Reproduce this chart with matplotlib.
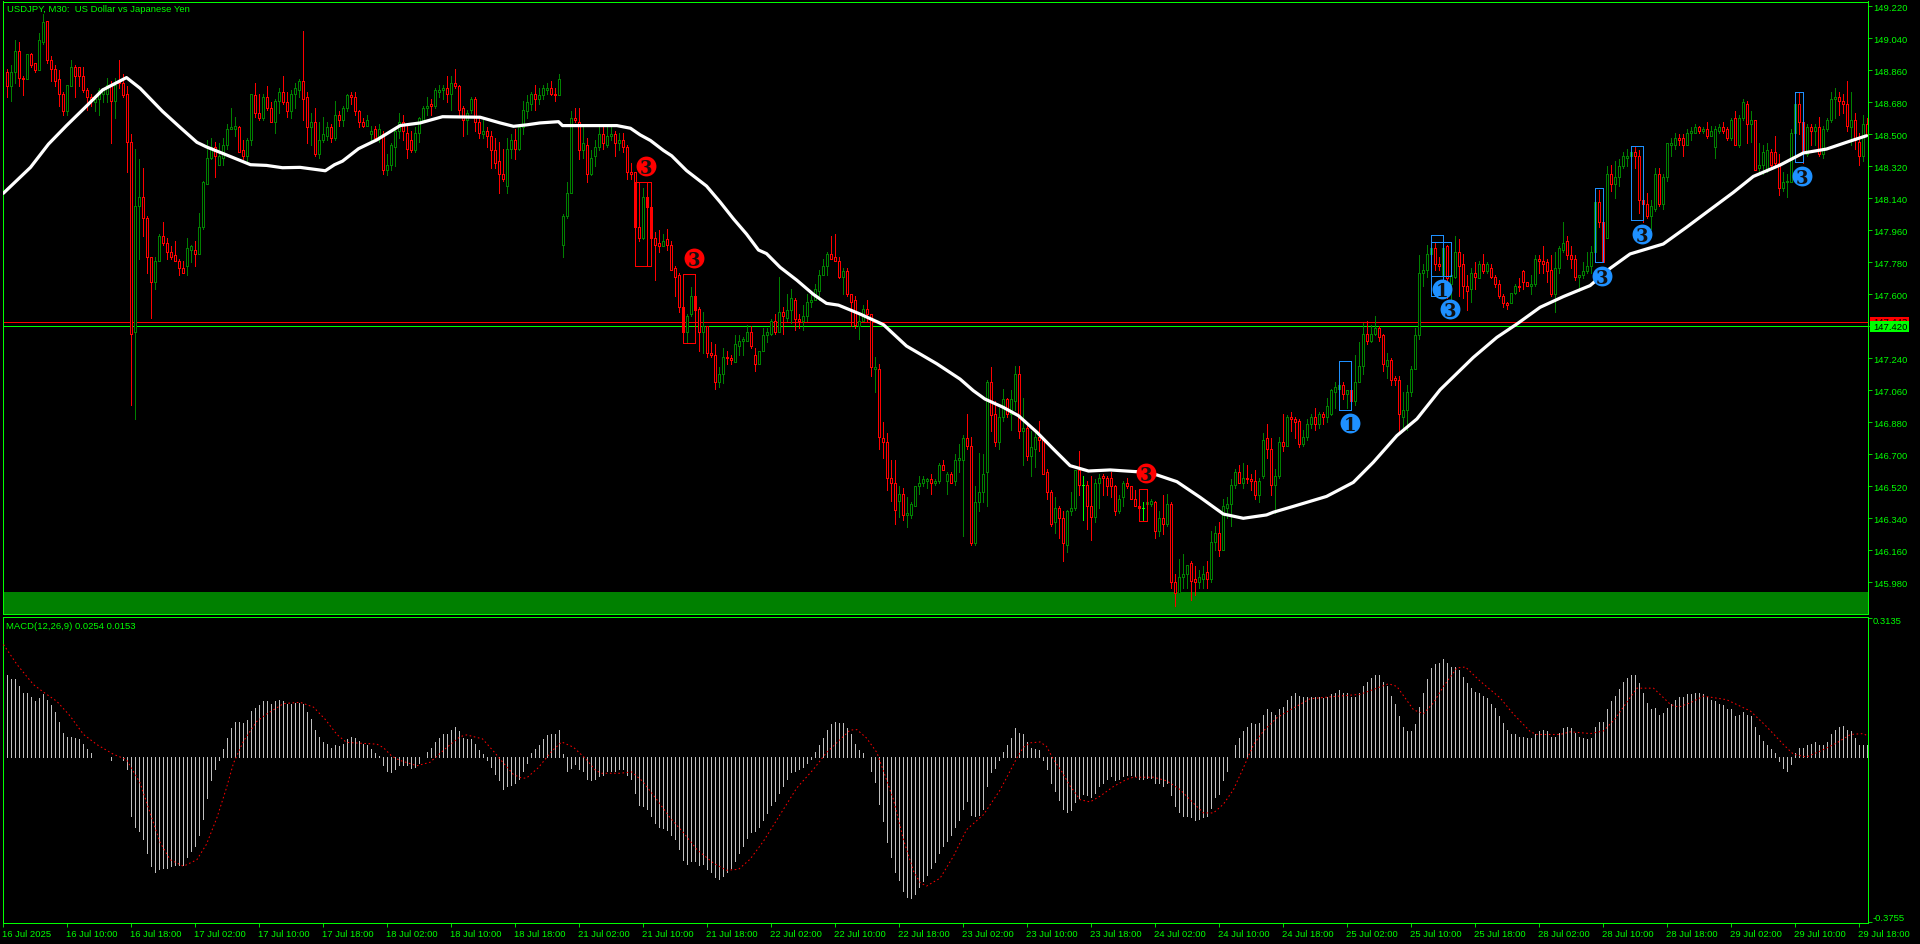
import matplotlib
matplotlib.use("Agg")
import matplotlib.pyplot as plt
from matplotlib.patches import Rectangle

# ---------- candles (USDJPY M30) ----------
highs = [
148.87,148.89,149.03,149.02,148.83,148.95,148.96,148.90,149.07,149.18,
149.14,148.94,148.89,148.86,148.74,148.78,148.92,148.89,148.88,148.88,
148.76,148.73,148.70,148.76,148.76,148.82,148.80,148.82,148.92,148.84,
148.77,148.50,148.42,148.36,148.31,148.04,147.81,147.81,147.94,148.01,
147.92,147.87,147.90,147.80,147.79,147.92,147.88,147.90,148.06,148.24,
148.47,148.48,148.46,148.45,148.48,148.56,148.65,148.60,148.55,148.47,
148.48,148.73,148.79,148.73,148.73,148.77,148.68,148.70,148.76,148.83,
148.74,148.75,148.79,148.81,149.08,148.74,148.62,148.65,148.57,148.60,
148.57,148.56,148.69,148.63,148.66,148.73,148.74,148.74,148.64,148.59,
148.61,148.55,148.55,148.56,148.52,148.39,148.45,148.53,148.62,148.61,
148.55,148.52,148.54,148.60,148.66,148.71,148.70,148.76,148.78,148.78,
148.83,148.83,148.87,148.78,148.66,148.64,148.71,148.71,148.59,
148.58,148.54,148.52,148.48,148.46,148.42,148.48,148.50,148.53,148.56,
148.69,148.72,148.74,148.78,148.76,148.78,148.79,148.80,148.76,148.84,
148.05,148.23,148.63,148.65,148.65,148.55,148.48,148.41,148.47,148.54,
148.54,148.54,148.54,148.52,148.51,148.51,148.44,148.34,148.29,148.23,
148.20,148.23,148.14,147.95,147.96,147.94,147.97,147.90,147.76,147.72,
147.54,147.49,147.64,147.62,147.53,147.50,147.42,147.33,147.32,147.19,
147.30,147.28,147.26,147.37,147.37,147.36,147.43,147.42,147.30,147.28,
147.41,147.41,147.46,147.49,147.70,147.53,147.60,147.63,147.58,147.49,
147.54,147.60,147.62,147.66,147.74,147.80,147.84,147.93,147.94,147.81,
147.75,147.75,147.60,147.59,147.50,147.54,147.57,147.49,147.25,
147.21,146.88,146.82,146.67,146.67,146.52,146.51,146.46,146.43,146.52,
146.58,146.58,146.57,146.59,146.56,146.65,146.67,146.60,146.60,146.70,
146.76,146.81,146.93,146.80,146.52,146.71,146.70,147.12,147.19,147.00,
146.96,147.07,147.02,147.06,147.20,147.20,147.02,146.87,146.83,146.82,
146.89,146.80,146.62,146.50,146.46,146.41,146.38,146.39,146.49,146.61,
146.72,146.58,146.55,146.58,146.56,146.59,146.59,146.58,146.60,146.53,
146.47,146.55,146.57,146.52,146.50,146.47,146.43,146.45,146.45,146.44,
146.38,146.47,146.48,
146.43,146.03,146.11,146.14,146.08,146.10,146.07,146.05,146.07,146.10,
146.27,146.30,146.32,146.45,146.46,146.56,146.62,146.64,146.65,146.64,
146.59,146.61,146.57,146.82,146.87,146.79,146.62,146.80,
146.93,146.92,146.94,146.91,146.90,146.84,146.90,146.93,146.96,146.94,
146.94,147.02,147.07,147.11,147.22,147.11,147.06,147.11,147.26,147.33,
147.44,147.45,147.43,147.48,147.42,147.38,147.27,147.24,147.14,147.14,
147.05,147.09,147.20,147.41,147.82,147.77,147.88,147.88,147.89,147.81,
147.93,147.88,147.72,147.93,147.91,147.83,147.71,147.75,147.78,147.79,
147.83,147.78,147.77,147.71,147.68,147.60,147.56,147.61,147.66,147.69,
147.74,147.67,147.71,147.82,147.82,147.87,147.80,147.82,147.84,147.87,
148.01,147.93,147.87,147.82,147.71,147.78,147.84,147.87,148.17,148.19,
148.02,148.32,148.33,148.35,148.36,148.40,148.42,148.43,148.43,148.41,
148.16,148.17,148.13,148.31,148.31,148.28,148.45,148.48,148.51,148.50,
148.50,148.53,148.54,148.56,148.55,148.54,148.57,148.55,148.55,148.56,
148.57,148.54,148.59,148.63,148.61,148.70,148.69,148.63,148.58,148.45,
148.44,148.45,148.42,148.49,148.39,148.29,148.28,148.53,148.74,148.74,
148.60,148.56,148.56,148.56,148.60,148.55,148.59,148.74,148.76,148.74,
148.73,148.80,148.74,148.62,148.51,148.61,148.59]

lows = [
148.71,148.69,148.79,148.77,148.72,148.81,148.88,148.85,148.86,149.01,
148.90,148.80,148.77,148.66,148.61,148.61,148.77,148.71,148.77,148.74,
148.64,148.66,148.63,148.61,148.68,148.68,148.45,148.59,148.76,148.71,
148.29,146.98,146.90,147.80,147.93,147.72,147.47,147.63,147.79,147.88,
147.80,147.80,147.79,147.71,147.72,147.71,147.78,147.76,147.83,147.97,
148.22,148.36,148.26,148.33,148.33,148.42,148.53,148.49,148.40,148.36,
148.34,148.44,148.60,148.58,148.58,148.64,148.57,148.51,148.62,148.67,
148.60,148.59,148.65,148.71,148.58,148.45,148.44,148.38,148.37,148.46,
148.47,148.46,148.47,148.55,148.55,148.63,148.67,148.61,148.54,148.54,
148.55,148.47,148.47,148.46,148.28,148.27,148.30,148.32,148.48,148.47,
148.37,148.40,148.40,148.46,148.58,148.61,148.61,148.65,148.71,148.70,
148.68,148.64,148.76,148.61,148.49,148.50,148.62,148.52,148.48,
148.48,148.43,148.31,148.31,148.17,148.24,148.17,148.37,148.36,148.41,
148.50,148.59,148.64,148.64,148.67,148.70,148.73,148.72,148.69,148.72,
147.81,148.03,148.17,148.57,148.36,148.37,148.23,148.27,148.32,148.41,
148.42,148.43,148.47,148.38,148.41,148.40,148.25,148.25,147.96,147.90,
147.91,148.02,147.86,147.68,147.84,147.87,147.85,147.74,147.59,147.50,
147.39,147.33,147.48,147.42,147.28,147.27,147.25,147.25,147.07,147.08,
147.10,147.21,147.21,147.22,147.26,147.26,147.34,147.30,147.17,147.21,
147.28,147.33,147.37,147.38,147.39,147.38,147.45,147.44,147.40,147.41,
147.40,147.45,147.53,147.57,147.57,147.71,147.71,147.80,147.79,147.69,
147.60,147.59,147.42,147.41,147.35,147.45,147.45,147.14,147.05,
146.73,146.68,146.50,146.44,146.31,146.35,146.33,146.29,146.34,146.41,
146.48,146.52,146.51,146.48,146.53,146.54,146.61,146.48,146.54,146.53,
146.60,146.24,146.73,146.19,146.19,146.38,146.43,146.41,146.83,146.75,
146.73,146.89,146.91,146.84,146.95,146.79,146.64,146.67,146.58,146.63,
146.72,146.59,146.45,146.30,146.26,146.23,146.10,146.15,146.36,146.39,
146.47,146.33,146.28,146.22,146.32,146.40,146.47,146.47,146.46,146.36,
146.37,146.41,146.51,146.45,146.41,146.33,146.33,146.41,146.41,146.23,
146.24,146.25,146.30,
145.95,145.85,145.92,145.95,145.95,145.88,145.91,145.95,145.95,145.95,
145.98,146.16,146.13,146.16,146.34,146.30,146.51,146.54,146.51,146.54,
146.50,146.45,146.43,146.57,146.68,146.47,146.37,146.57,
146.72,146.75,146.83,146.79,146.74,146.75,146.78,146.85,146.84,146.85,
146.87,146.88,146.92,146.96,147.01,147.01,146.96,146.96,146.98,147.11,
147.15,147.32,147.33,147.37,147.34,147.17,147.13,147.09,147.09,146.82,
146.83,146.84,147.03,147.18,147.35,147.65,147.70,147.71,147.74,147.74,
147.69,147.58,147.57,147.69,147.59,147.58,147.51,147.56,147.63,147.69,
147.72,147.72,147.69,147.64,147.58,147.53,147.52,147.55,147.60,147.62,
147.63,147.65,147.60,147.65,147.72,147.72,147.67,147.59,147.50,147.72,
147.84,147.80,147.75,147.68,147.62,147.69,147.72,147.72,147.84,147.98,
147.78,147.92,148.18,148.14,148.21,148.31,148.32,148.28,148.31,148.06,
148.01,148.03,147.97,148.07,148.10,148.08,148.24,148.38,148.42,148.44,
148.38,148.44,148.47,148.51,148.51,148.51,148.48,148.49,148.37,148.51,
148.51,148.47,148.47,148.44,148.43,148.58,148.45,148.46,148.30,148.28,
148.28,148.29,148.32,148.32,148.16,148.18,148.15,148.23,148.46,148.50,
148.34,148.38,148.44,148.44,148.38,148.37,148.52,148.57,148.59,148.61,
148.62,148.52,148.44,148.42,148.33,148.35,148.50]

opens = [
148.85,148.77,148.85,148.97,148.82,148.81,148.95,148.90,148.86,149.02,
149.14,148.92,148.87,148.81,148.73,148.63,148.77,148.88,148.88,148.83,
148.75,148.71,148.68,148.70,148.73,148.73,148.77,148.69,148.80,148.79,
148.73,148.46,147.39,148.10,148.15,148.03,147.81,147.67,147.79,147.93,
147.89,147.84,147.82,147.79,147.75,147.76,147.85,147.85,147.83,147.98,
148.22,148.37,148.43,148.33,148.37,148.44,148.53,148.53,148.54,148.41,
148.38,148.47,148.72,148.62,148.59,148.71,148.65,148.57,148.69,148.74,
148.68,148.63,148.73,148.75,148.80,148.71,148.54,148.57,148.39,148.47,
148.49,148.54,148.48,148.61,148.58,148.65,148.72,148.71,148.63,148.57,
148.55,148.50,148.53,148.49,148.50,148.30,148.33,148.43,148.52,148.57,
148.51,148.47,148.41,148.51,148.58,148.65,148.67,148.66,148.74,148.75,
148.76,148.73,148.79,148.77,148.65,148.58,148.64,148.70,148.57,
148.50,148.52,148.49,148.41,148.35,148.28,148.21,148.42,148.47,148.42,
148.54,148.63,148.67,148.73,148.70,148.72,148.75,148.76,148.73,148.72,
147.88,148.04,148.17,148.59,148.57,148.41,148.44,148.28,148.38,148.43,
148.50,148.44,148.49,148.50,148.45,148.47,148.43,148.29,148.29,147.98,
147.92,148.15,148.09,147.92,147.89,147.87,147.91,147.88,147.75,147.71,
147.53,147.39,147.49,147.59,147.52,147.39,147.42,147.27,147.26,147.11,
147.15,147.25,147.24,147.22,147.31,147.34,147.34,147.39,147.26,147.21,
147.28,147.37,147.38,147.45,147.39,147.50,147.47,147.51,147.57,147.46,
147.45,147.48,147.56,147.57,147.62,147.71,147.76,147.83,147.81,147.79,
147.70,147.73,147.60,147.57,147.42,147.45,147.52,147.49,147.18,
147.18,146.79,146.77,146.57,146.54,146.44,146.48,146.36,146.36,146.41,
146.52,146.54,146.55,146.56,146.54,146.55,146.64,146.55,146.59,146.55,
146.67,146.67,146.79,146.75,146.20,146.43,146.49,146.60,147.11,146.93,
146.77,146.91,147.01,146.93,147.00,147.15,146.83,146.85,146.69,146.73,
146.80,146.78,146.60,146.49,146.32,146.40,146.34,146.19,146.38,146.40,
146.61,146.53,146.53,146.41,146.35,146.54,146.58,146.57,146.57,146.52,
146.38,146.46,146.54,146.52,146.45,146.41,146.40,146.42,146.42,146.43,
146.27,146.34,146.31,
146.42,145.98,145.92,146.01,146.03,146.09,146.00,145.98,146.00,146.04,
146.00,146.21,146.26,146.16,146.40,146.42,146.53,146.60,146.54,146.57,
146.56,146.55,146.47,146.58,146.79,146.73,146.53,146.58,
146.77,146.75,146.91,146.90,146.89,146.76,146.80,146.87,146.91,146.87,
146.93,146.91,146.93,147.05,147.07,147.09,147.04,147.06,147.00,147.11,
147.20,147.38,147.34,147.38,147.41,147.37,147.20,147.23,147.13,147.12,
146.91,146.95,147.05,147.18,147.37,147.72,147.74,147.83,147.86,147.77,
147.71,147.87,147.66,147.70,147.84,147.77,147.65,147.63,147.72,147.69,
147.77,147.73,147.75,147.70,147.66,147.59,147.55,147.55,147.61,147.65,
147.73,147.67,147.65,147.66,147.80,147.79,147.78,147.74,147.60,147.75,
147.85,147.90,147.82,147.80,147.70,147.71,147.73,147.76,147.84,148.12,
148.01,147.92,148.28,148.22,148.26,148.32,148.37,148.38,148.40,148.38,
148.13,148.11,148.04,148.08,148.28,148.11,148.26,148.44,148.44,148.48,
148.48,148.44,148.51,148.51,148.54,148.52,148.53,148.49,148.43,148.52,
148.54,148.53,148.48,148.59,148.44,148.59,148.67,148.56,148.58,148.31,
148.33,148.30,148.40,148.40,148.34,148.20,148.23,148.23,148.51,148.67,
148.57,148.39,148.54,148.52,148.54,148.39,148.53,148.58,148.70,148.71,
148.69,148.67,148.54,148.58,148.46,148.38,148.56]

closes = [
148.77,148.85,148.97,148.82,148.81,148.95,148.89,148.86,149.03,149.13,
148.92,148.87,148.80,148.73,148.63,148.78,148.88,148.83,148.83,148.75,
148.71,148.69,148.70,148.75,148.76,148.78,148.69,148.78,148.79,148.72,
148.46,147.38,148.10,148.15,148.03,147.81,147.67,147.79,147.93,147.89,
147.84,147.81,147.79,147.75,147.72,147.86,147.87,147.83,147.98,148.23,
148.37,148.43,148.38,148.38,148.44,148.53,148.54,148.55,148.40,148.38,
148.47,148.73,148.62,148.59,148.71,148.65,148.57,148.69,148.74,148.68,
148.63,148.73,148.76,148.80,148.70,148.54,148.57,148.39,148.47,148.50,
148.54,148.48,148.61,148.58,148.65,148.72,148.71,148.63,148.57,148.55,
148.58,148.52,148.48,148.53,148.30,148.33,148.44,148.52,148.57,148.52,
148.42,148.41,148.51,148.59,148.65,148.66,148.66,148.75,148.75,148.76,
148.73,148.79,148.77,148.64,148.58,148.62,148.70,148.57,148.51,
148.52,148.49,148.41,148.34,148.28,148.25,148.42,148.47,148.42,148.54,
148.64,148.68,148.73,148.70,148.72,148.76,148.76,148.73,148.72,148.81,
148.04,148.17,148.59,148.58,148.41,148.45,148.28,148.37,148.43,148.50,
148.45,148.49,148.50,148.45,148.47,148.43,148.29,148.28,147.98,147.92,
148.15,148.09,147.92,147.88,147.87,147.90,147.88,147.74,147.70,147.53,
147.39,147.48,147.59,147.51,147.39,147.42,147.27,147.26,147.11,147.15,
147.25,147.24,147.23,147.32,147.34,147.35,147.39,147.31,147.21,147.28,
147.37,147.39,147.45,147.39,147.50,147.48,147.51,147.58,147.46,147.45,
147.48,147.56,147.57,147.63,147.71,147.76,147.83,147.80,147.79,147.70,
147.73,147.60,147.56,147.43,147.45,147.52,147.49,147.19,147.19,
146.80,146.77,146.57,146.54,146.39,146.48,146.36,146.37,146.42,146.52,
146.54,146.56,146.56,146.54,146.55,146.64,146.61,146.59,146.54,146.67,
146.68,146.79,146.75,146.20,146.43,146.49,146.59,147.11,146.92,146.77,
146.91,147.01,146.93,147.01,147.15,146.83,146.85,146.69,146.74,146.80,
146.78,146.59,146.49,146.31,146.40,146.34,146.20,146.38,146.40,146.61,
146.53,146.53,146.41,146.35,146.54,146.57,146.57,146.52,146.52,146.38,
146.45,146.54,146.52,146.45,146.41,146.40,146.40,146.43,146.44,146.27,
146.34,146.31,146.42,
145.98,145.92,146.01,146.03,146.08,145.99,145.98,146.01,146.03,146.00,
146.21,146.26,146.16,146.41,146.42,146.53,146.60,146.54,146.57,146.56,
146.55,146.47,146.55,146.78,146.73,146.53,146.58,146.77,
146.75,146.91,146.90,146.88,146.76,146.80,146.87,146.91,146.87,146.93,
146.91,146.97,147.06,147.08,147.09,147.04,147.06,147.00,147.11,147.20,
147.38,147.34,147.38,147.41,147.36,147.21,147.23,147.12,147.12,146.93,
146.95,147.05,147.18,147.37,147.72,147.74,147.83,147.86,147.77,147.76,
147.86,147.69,147.71,147.84,147.76,147.65,147.62,147.72,147.70,147.77,
147.73,147.77,147.70,147.66,147.59,147.55,147.54,147.61,147.65,147.64,
147.67,147.65,147.66,147.80,147.79,147.77,147.73,147.60,147.75,147.86,
147.89,147.82,147.80,147.70,147.71,147.73,147.76,147.84,148.12,148.01,
147.78,148.28,148.22,148.26,148.32,148.38,148.38,148.40,148.38,148.13,
148.11,148.04,148.10,148.28,148.11,148.26,148.45,148.45,148.48,148.47,
148.44,148.51,148.52,148.54,148.52,148.53,148.49,148.52,148.53,148.54,
148.52,148.48,148.58,148.44,148.59,148.68,148.56,148.58,148.30,148.33,
148.40,148.41,148.33,148.34,148.20,148.23,148.24,148.51,148.67,148.57,
148.40,148.54,148.52,148.54,148.39,148.53,148.58,148.70,148.71,148.69,
148.67,148.55,148.58,148.47,148.38,148.56,148.50]

# ---------- moving average (white), read at these bars ----------
ma_bars = [-0.8,6,10.5,15,20,24,30,33.4,39,43.4,47.6,50,55,61,65,69,73.4,79.7,82,84,88,92.6,98.4,103.4,109,
118.4,123.4,126.75,130,133.4,138,139,143.4,152.6,156,158.4,161,164.25,166.3,170,175,178.4,181.75,185,188,190,
193.4,197.6,201.75,205,208,213.4,219.25,225,232.6,238.4,241.7,244.6,249.2,253,257.6,261.7,265.9,270.5,275.9,
282.6,287.6,292.6,298.4,304.2,309.2,315,316.7,321.7,330,336.7,341.7,347.6,352.6,358.4,366.7,372.6,377.6,383.4,
389.2,395.9,400.9,405.9,414.2,420,425,431.7,436.7,443.4,449.2,455,460,465]
ma_values = [148.169,148.315,148.446,148.55,148.66,148.75,148.82,148.76,148.63,148.54,148.456,148.43,148.385,148.33,
148.326,148.313,148.315,148.296,148.33,148.35,148.42,148.47,148.55,148.565,148.60,
148.597,148.565,148.546,148.554,148.565,148.572,148.55,148.55,148.55,148.535,148.498,148.466,148.41,148.38,148.297,
148.21,148.12,148.025,147.94,147.85,147.83,147.753,147.68,147.60,147.55,147.54,147.49,147.43,147.31,147.21,147.124,
147.059,147.012,146.965,146.918,146.825,146.731,146.637,146.607,146.613,146.603,146.585,146.547,146.459,146.365,
146.341,146.36,146.375,146.408,146.464,146.543,146.656,146.806,146.90,147.064,147.246,147.359,147.434,147.528,
147.588,147.65,147.747,147.828,147.884,147.978,148.062,148.174,148.264,148.328,148.396,148.418,148.456,148.493]

# ---------- MACD histogram, thousandths ----------
macd_hist_milli = [
186,175,175,159,145,143,136,127,132,141,
129,116,100,79,54,45,45,41,39,29,
18,7,0,-2,-2,0,-9,-2,0,-7,
-29,-136,-159,-170,-188,-218,-249,-261,-256,-252,
-252,-249,-247,-245,-245,-229,-215,-204,-179,-141,
-95,-54,-29,-7,18,43,64,79,79,77,
82,104,111,116,125,127,120,125,129,127,
120,120,122,122,120,100,86,59,45,34,
29,20,25,23,29,39,45,43,36,29,
25,16,7,2,-20,-34,-36,-29,-20,-20,
-20,-27,-23,-14,0,11,20,34,43,50,
52,61,66,57,43,39,39,29,14,
5,-7,-23,-39,-54,-73,-68,-64,-61,-50,-32,-14,7,18,27,39,48,52,52,61,5,-32,-25,-18,-29,-34,-50,-54,-52,-45,
-43,-34,-32,-32,-29,-29,-41,-50,-82,-109,-113,-118,-134,-150,-159,-163,-166,-179,-188,-209,-234,-243,-238,-238,-245,-243,-256,-261,-274,-279,
-272,-263,-254,-238,-220,-202,-184,-172,-170,-161,-145,-129,-111,-100,-82,-68,-52,-36,-32,-29,-23,-14,-5,11,27,43,61,73,79,77,
75,64,50,29,14,7,0,-34,-57,-107,-147,-193,-227,-261,-281,-304,-318,-320,-311,-297,-283,-268,-254,-240,-220,-204,-191,-179,-159,-143,
-118,-102,-132,-134,-132,-118,-66,-36,-27,-9,
11,25,41,64,54,50,32,20,18,14,-7,-29,-61,-79,-98,-120,-125,-122,-104,-95,-86,-88,-93,-82,-68,-59,-50,-45,-54,-52,
-45,-41,-41,-45,-50,-50,-48,-48,-59,-61,-66,-59,-88,-113,-127,-134,-134,-138,-143,-141,-138,-134,-116,-93,-84,-54,-32,0,25,43,
57,68,75,73,75,95,107,100,95,107,113,129,138,145,138,134,134,136,134,134,132,136,141,145,150,145,143,134,136,143,
161,170,179,184,186,170,159,138,120,91,68,57,57,73,113,145,175,200,209,213,222,211,202,204,197,181,166,156,147,143,
138,132,120,109,93,75,61,52,50,45,
45,43,41,50,57,59,57,45,45,54,64,66,64,54,45,41,39,43,68,79,79,107,125,138,154,168,177,184,186,166,
145,122,107,109,95,98,111,120,129,136,136,141,141,143,143,141,134,129,125,120,116,107,107,93,95,100,95,93,66,48,36,
25,18,9,-11,-25,-34,-18,9,20,20,27,29,34,25,27,34,50,61,68,70,61,57,43,25,25,25]

# ---------- MACD signal (red dotted), read at these bars, thousandths ----------
signal_bars = [-0.75,2.6,6.75,9.25,12.6,15.9,19.25,22.6,26.75,30,33.4,35.9,38.4,40.9,44.25,47.6,50,52.6,55,56.75,59.25,62.6,65,
69.25,73.4,76.75,79.7,82.6,85,92.6,94.25,96.3,98.4,102.6,105.9,110,113.4,115,119,121.75,124.25,126.75,128.8,130,133,136.3,138.8,
141.75,145,147.2,148.8,153.4,156.3,159,162.6,165.9,169.25,172.6,176.75,180,183,185.9,189.25,193.4,197.6,201.75,205,208,210.9,212.6,
215,217.6,219.25,221.75,224.25,226.75,228.4,230,233.4,236.75,240,244.25,248.4,250.9,252.6,254.25,255.9,258.4,260,261.75,263.75,265.9,
268.4,270.9,273.4,276.75,280,281.75,286.75,290,293.4,296.75,299.25,301.75,304.25,306.75,309.25,311.75,314.25,317.6,321.75,325.9,
331.75,338.4,342.6,345.5,347.6,351.75,354.25,356.75,359.25,362.6,364.75,368.4,373.4,376.75,381,382.6,388.4,391,396,399.25,402,405,
407.6,411.75,416,418,421,424.25,430,436,440,444.25,446.75,450,453.4,457.6,461,464.25,465]
signal_milli = [254,209,163,146,125,92,50,27,5,-7,-60,-128,-195,-234,-249,-234,-199,-139,-71,-15,35,80,96,
120,123,112,84,50,32,28,20,1,-9,-21,-13,20,45,49,40,12,-15,-41,-49,-49,-25,12,33,
21,-7,-31,-38,-38,-35,-56,-98,-139,-173,-211,-242,-258,-256,-233,-192,-132,-71,-29,9,35,60,61,
42,9,-33,-98,-189,-260,-286,-294,-276,-226,-166,-132,-76,-33,-3,21,31,33,23,-7,-33,-67,
-98,-103,-90,-68,-52,-47,-47,-55,-75,-106,-128,-128,-108,-75,-25,27,58,88,110,131,
136,141,155,165,159,106,97,122,159,201,203,171,133,96,56,50,50,56,52,58,84,122,
155,155,118,112,122,137,129,103,68,27,5,-1,12,31,50,52,48]

# ---------- axis tick text ----------
price_ticks = [149.22,149.04,148.86,148.68,148.50,148.32,148.14,147.96,147.78,147.60,
               147.42,147.24,147.06,146.88,146.70,146.52,146.34,146.16,145.98]
time_labels = ["16 Jul 2025","16 Jul 10:00","16 Jul 18:00","17 Jul 02:00","17 Jul 10:00","17 Jul 18:00",
               "18 Jul 02:00","18 Jul 10:00","18 Jul 18:00","21 Jul 02:00","21 Jul 10:00","21 Jul 18:00",
               "22 Jul 02:00","22 Jul 10:00","22 Jul 18:00","23 Jul 02:00","23 Jul 10:00","23 Jul 18:00",
               "24 Jul 02:00","24 Jul 10:00","24 Jul 18:00","25 Jul 02:00","25 Jul 10:00","25 Jul 18:00",
               "28 Jul 02:00","28 Jul 10:00","28 Jul 18:00","29 Jul 02:00","29 Jul 10:00","29 Jul 18:00"]
time_tick_bars = [-1 + 16 * k for k in range(len(time_labels))]

bid_price = 147.420
ask_price = 147.443
band_top = 145.926

# ---------- signal markers and boxes ----------
red_marks = [(159.9, 148.324, "3"), (171.9, 147.805, "3"), (284.9, 146.596, "3")]
blue_marks = [(335.9, 146.877, "1"), (358.8, 147.631, "1"), (360.9, 147.518, "3"),
              (398.8, 147.706, "3"), (408.8, 147.94, "3"), (448.8, 148.268, "3")]
red_boxes = [(157, 160, 147.762, 148.231), (157, 161.1, 147.762, 148.231),
             (169, 172, 147.325, 147.713), (283, 285, 146.327, 146.504)]
blue_boxes = [(333, 336, 146.952, 147.224), (356, 359, 147.593, 147.934), (356, 361, 147.706, 147.893),
              (397, 399, 147.781, 148.197), (406, 409, 148.017, 148.433), (447, 449, 148.343, 148.737)]

LIME = "#00ff00"
W, H = 1920, 945
PX = 72 / 100
THIN = 0.6
FS = 6.8
plt.rcParams["font.family"] = ["Liberation Sans", "DejaVu Sans"]

fig = plt.figure(figsize=(19.2, 9.45), dpi=100, facecolor="black")


def pane(top, bottom):
    left, right = 2.5, 1867.5
    return fig.add_axes([left / W, 1 - bottom / H, (right - left) / W, (bottom - top) / H], facecolor="black")


ax = pane(2.5, 615.3)
ax2 = pane(617.5, 924)

n = len(closes)
bars = list(range(n))

for a in (ax, ax2):
    a.set_xlim(-1, 465.25)
    for s in a.spines.values():
        s.set_color(LIME)
        s.set_linewidth(1 * PX)

ax.set_ylim(145.801, 149.248)
ax2.set_ylim(-0.3777, 0.3176)

# band and price lines
ax.axhspan(145.801, band_top, color="#008000", lw=0, zorder=1)
ax.axhline(ask_price, color="#ff0000", lw=THIN, zorder=1.5, antialiased=False)
ax.axhline(bid_price, color=LIME, lw=THIN, zorder=1.5, antialiased=False)

# candles
for i in bars:
    o, c = opens[i], closes[i]
    col = "#008000" if c > o else ("#ff0000" if c < o else LIME)
    ax.vlines(i, lows[i], highs[i], color=col, lw=THIN, zorder=2, antialiased=False)
    ax.add_patch(Rectangle((i - 0.25, min(o, c)), 0.5, max(abs(c - o), 0.001), facecolor="black", edgecolor=col,
                           lw=THIN, zorder=3, antialiased=False))

# boxes
for boxes, col in ((red_boxes, "#ff0000"), (blue_boxes, "#1e90ff")):
    for x0, x1, y0, y1 in boxes:
        ax.add_patch(Rectangle((x0, y0), x1 - x0, y1 - y0, fill=False, edgecolor=col, lw=THIN, zorder=4,
                               antialiased=False))

# moving average
ax.plot(ma_bars, ma_values, color="white", lw=3.2 * PX, zorder=5, solid_capstyle="round", solid_joinstyle="round")

# numbered markers
for marks, col in ((red_marks, "#ff0000"), (blue_marks, "#1e90ff")):
    for x, y, label in marks:
        ax.scatter([x], [y], s=205, color=col, lw=0, zorder=6)
        ax.text(x, y, label, color="#101010", ha="center", va="center_baseline", fontsize=13, fontweight="bold",
                family="DejaVu Serif", zorder=7)

# MACD
macd_hist = [v / 1000 for v in macd_hist_milli]
signal = [v / 1000 for v in signal_milli]
ax2.vlines(bars, 0, macd_hist, color="#c0c0c0", lw=THIN, antialiased=False, zorder=2)
ax2.plot(signal_bars, signal, color="#ff0000", lw=1 * PX, ls=(0, (1.6, 2.6)), zorder=3)

# axes and ticks
ax.yaxis.tick_right()
ax.set_yticks(price_ticks, [f"{p:.3f}" for p in price_ticks], color=LIME, fontsize=FS)
ax.set_xticks([])
ax.tick_params(axis="y", color=LIME, length=4 * PX, width=THIN, pad=1.2)

ax2.yaxis.tick_right()
ax2.set_yticks([0.3135, -0.3755], ["", ""])
ax2.set_xticks(time_tick_bars, time_labels, color=LIME, fontsize=FS, ha="left")
ax2.tick_params(axis="y", color=LIME, length=4 * PX, width=THIN)
ax2.tick_params(axis="x", color=LIME, length=4 * PX, width=THIN, pad=1.5)


def ftext(x, y, s, zorder=20, **kw):
    kw.setdefault("color", LIME)
    kw.setdefault("fontsize", FS)
    kw.setdefault("va", "center")
    fig.text(x / W, 1 - y / H, s, zorder=zorder, **kw)


ftext(6.7, 9.8, "USDJPY, M30:  US Dollar vs Japanese Yen")
ftext(5.7, 626.7, "MACD(12,26,9) 0.0254 0.0153")
ftext(1873, 622, "0.3135")
ftext(1873, 918.7, "-0.3755")

# price flags on the right
fig.add_artist(Rectangle((1870 / W, 1 - 327 / H), 39 / W, 9 / H, transform=fig.transFigure, color="#ff0000", lw=0, zorder=15))
ftext(1873, 323, f"{ask_price:.3f}", zorder=15.5, color="black")
fig.add_artist(Rectangle((1870 / W, 1 - 333.3 / H), 39 / W, 11.3 / H, transform=fig.transFigure, color=LIME, lw=0, zorder=16))
ftext(1873, 327.6, f"{bid_price:.3f}", color="black")

fig.savefig("out.png", dpi=100, facecolor="black")
